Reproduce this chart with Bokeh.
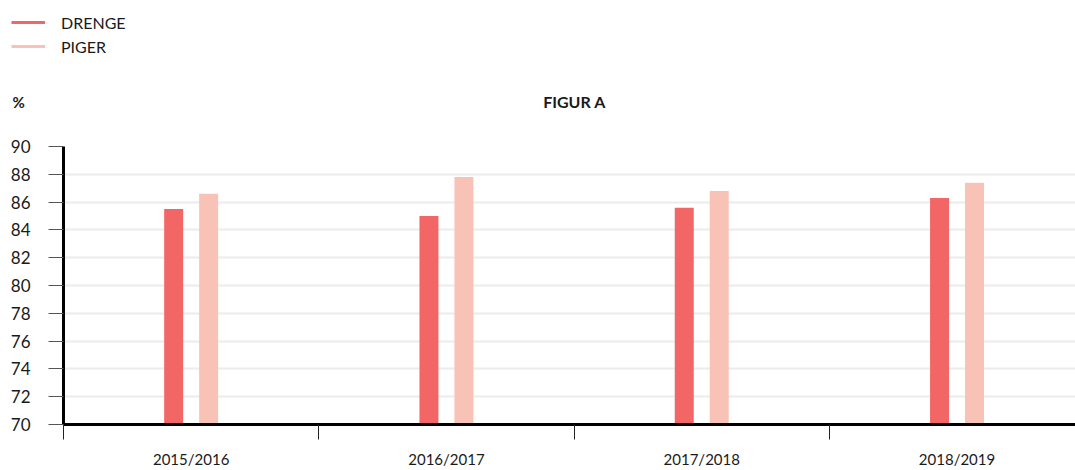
import numpy as np
from bokeh.plotting import figure
from bokeh.layouts import column, row
from bokeh.models import (ColumnDataSource, Range1d, FixedTicker, Legend, LegendItem,
                          Label)
from bokeh.transform import dodge
from bokeh.embed import file_html
from bokeh.resources import INLINE

# ---- data ----
categories = ["2015/2016", "2016/2017", "2017/2018", "2018/2019"]
drenge = [85.5, 85.0, 85.6, 86.3]
piger = [86.6, 87.8, 86.8, 87.4]
y_ticks = [70, 72, 74, 76, 78, 80, 82, 84, 86, 88, 90]
series_names = ["DRENGE", "PIGER"]
title_text = "FIGUR A"
unit_text = "%"

FONT = "Lato"
TEXT_COLOR = "#1a1a1a"
C_DRENGE = "#f26766"
C_PIGER = "#f9c2b7"

W = 1075
HEAD_H = 126

xpos = np.arange(len(categories)) + 0.5
source = ColumnDataSource(dict(x=xpos, cat=categories, drenge=drenge, piger=piger))

# ---------- header: legend, unit and title ----------
head = figure(width=W, height=HEAD_H, output_backend="svg", toolbar_location=None,
              x_range=Range1d(0, W), y_range=Range1d(HEAD_H, 0),
              x_axis_location=None, y_axis_location=None,
              min_border=0, min_border_left=0, min_border_right=0,
              min_border_top=0, min_border_bottom=0)
head.grid.visible = False
head.outline_line_color = None
head.background_fill_color = "white"
head.border_fill_color = "white"
# series drawn on a range far outside the header, only their legend samples show
head.extra_y_ranges = {"legend": Range1d(1000, 2000)}
l1 = head.line(x="x", y="drenge", source=source, y_range_name="legend",
               line_color=C_DRENGE, line_width=3)
l2 = head.line(x="x", y="piger", source=source, y_range_name="legend",
               line_color=C_PIGER, line_width=3)
legend = Legend(items=[LegendItem(label=series_names[0], renderers=[l1]),
                       LegendItem(label=series_names[1], renderers=[l2])],
                location=(11, HEAD_H - 10 - 48), orientation="vertical",
                glyph_width=34, glyph_height=24, label_height=24, label_standoff=16,
                spacing=0, padding=0, margin=0,
                label_text_font=FONT, label_text_font_size="16px",
                label_text_color=TEXT_COLOR, label_text_baseline="middle",
                background_fill_alpha=0, border_line_color=None)
head.add_layout(legend, "center")

head.add_layout(Label(x=574, y=101, text=title_text,
                      text_align="center", text_baseline="middle", text_font=FONT,
                      text_font_size="16px", text_font_style="bold", text_color=TEXT_COLOR))
head.add_layout(Label(x=12, y=101, text=unit_text,
                      text_align="left", text_baseline="middle", text_font=FONT,
                      text_font_size="15px", text_font_style="bold", text_color=TEXT_COLOR))

# ---------- main chart ----------
p = figure(width=W, height=470 - HEAD_H, output_backend="svg", toolbar_location=None,
           x_range=Range1d(0, 3.964), y_range=Range1d(70, 90),
           min_border_left=63, min_border_right=0, min_border_top=20,
           min_border_bottom=46)
p.outline_line_color = None
p.background_fill_color = "white"
p.border_fill_color = "white"

bar_w = 0.0744
off = 0.0685
p.vbar(x=dodge("x", -off, range=p.x_range), top="drenge", bottom=70, width=bar_w,
       source=source, fill_color=C_DRENGE, line_color=None)
p.vbar(x=dodge("x", off, range=p.x_range), top="piger", bottom=70, width=bar_w,
       source=source, fill_color=C_PIGER, line_color=None)

# grid
p.xgrid.grid_line_color = None
p.ygrid.ticker = FixedTicker(ticks=y_ticks)
p.ygrid.grid_line_color = "#ececec"
p.ygrid.grid_line_width = 2

# y axis
ya = p.yaxis[0]
ya.ticker = FixedTicker(ticks=y_ticks, minor_ticks=[])
ya.axis_line_color = "black"
ya.axis_line_width = 3
ya.major_tick_line_color = "#555555"
ya.major_tick_line_width = 1
ya.major_tick_out = 15
ya.major_tick_in = 0
ya.minor_tick_line_color = None
ya.major_label_standoff = 18
ya.major_label_text_font = FONT
ya.major_label_text_font_size = "17px"
ya.major_label_text_color = TEXT_COLOR
ya.major_label_text_baseline = "alphabetic"

# x axis
xa = p.xaxis[0]
xa.ticker = FixedTicker(ticks=list(xpos), minor_ticks=list(np.arange(len(categories))))
xa.major_label_overrides = {float(x): c for x, c in zip(xpos, categories)}
xa.axis_line_color = "black"
xa.axis_line_width = 3
xa.major_tick_out = 0
xa.major_tick_in = 0
xa.major_tick_line_color = None
xa.minor_tick_out = 15
xa.minor_tick_in = 0
xa.minor_tick_line_color = "#222222"
xa.minor_tick_line_width = 1
xa.major_label_standoff = 10
xa.major_label_text_font = FONT
xa.major_label_text_font_size = "15px"
xa.major_label_text_color = TEXT_COLOR

layout = column(row(head), p, spacing=0)
open("out.html", "w").write(file_html(layout, INLINE))
